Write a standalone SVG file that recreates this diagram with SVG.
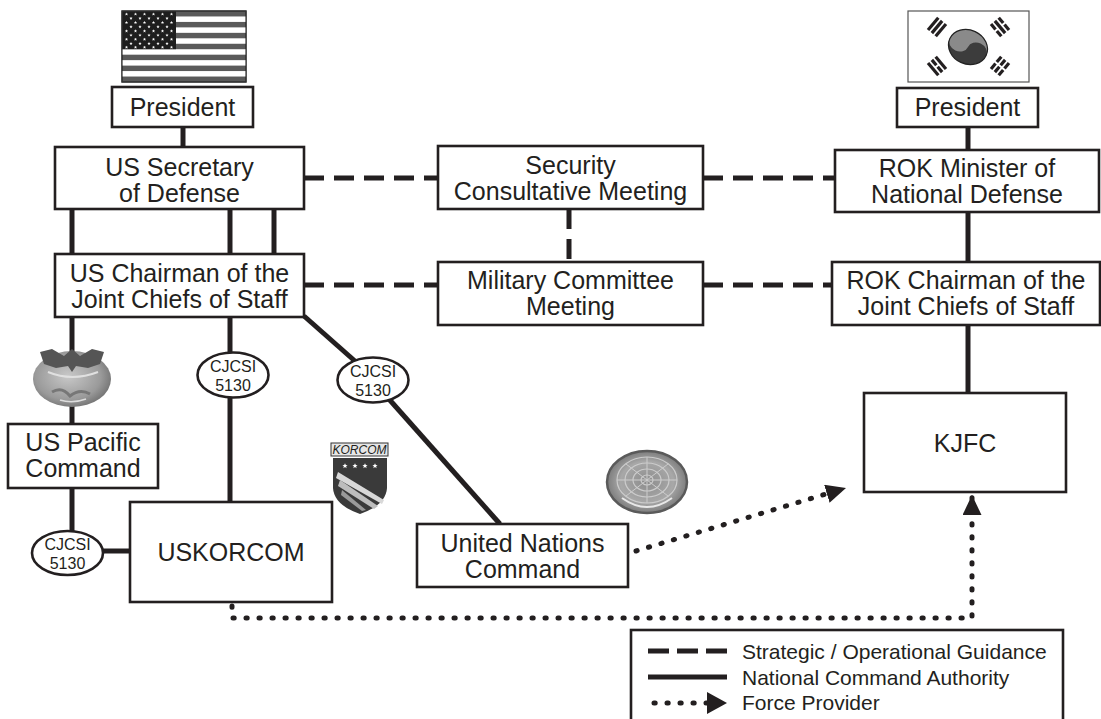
<svg xmlns="http://www.w3.org/2000/svg" xmlns:xlink="http://www.w3.org/1999/xlink" width="1101" height="719" viewBox="0 0 1101 719">
<style>
.box{fill:#fff;stroke:#231f20;stroke-width:2.6}
.t{font-family:"Liberation Sans",Arial,Helvetica,sans-serif;font-size:25px;fill:#231f20;text-anchor:middle}
.s{font-family:"Liberation Sans",Arial,Helvetica,sans-serif;font-size:16px;fill:#231f20;text-anchor:middle}
.lg{font-family:"Liberation Sans",Arial,Helvetica,sans-serif;font-size:21px;fill:#231f20}
.solid{fill:none;stroke:#231f20;stroke-width:5}
.dash{fill:none;stroke:#231f20;stroke-width:5;stroke-dasharray:20 10}
.dot{fill:none;stroke:#231f20;stroke-width:5;stroke-dasharray:1.2 11.8;stroke-linecap:round}
.ell{fill:#fff;stroke:#231f20;stroke-width:2.6}
</style>
<defs>
<marker id="arr" markerUnits="userSpaceOnUse" viewBox="0 0 20 19" markerWidth="20" markerHeight="19" refX="20" refY="9.5" orient="auto">
<path d="M0,0 L20,9.5 L0,19 Z" fill="#231f20"/>
</marker>
<marker id="arrL" markerUnits="userSpaceOnUse" viewBox="0 0 20 22" markerWidth="20" markerHeight="22" refX="20" refY="11" orient="auto">
<path d="M0,0 L20,11 L0,22 Z" fill="#231f20"/>
</marker>
<path id="star" d="M0,-1.7 L0.5,-0.55 1.62,-0.53 0.72,0.2 1,1.38 0,0.66 -1,1.38 -0.72,0.2 -1.62,-0.53 -0.5,-0.55Z" fill="#fff"/>
<g id="rowA"><use href="#star" x="0"/><use href="#star" x="9"/><use href="#star" x="18"/><use href="#star" x="27"/><use href="#star" x="36"/><use href="#star" x="45"/></g>
<g id="rowB"><use href="#star" x="4.5"/><use href="#star" x="13.5"/><use href="#star" x="22.5"/><use href="#star" x="31.5"/><use href="#star" x="40.5"/></g>
<rect id="bar" x="-8" y="-1.6" width="16" height="3.2" fill="#231f20"/>
<g id="brk"><rect x="-8" y="-1.6" width="7" height="3.2" fill="#231f20"/><rect x="1" y="-1.6" width="7" height="3.2" fill="#231f20"/></g>
<radialGradient id="gp" cx="0.45" cy="0.45" r="0.6">
<stop offset="0" stop-color="#c8c8c8"/><stop offset="0.7" stop-color="#9a9a9a"/><stop offset="1" stop-color="#6e6e6e"/>
</radialGradient>
<radialGradient id="gu" cx="0.5" cy="0.5" r="0.55">
<stop offset="0" stop-color="#8c8c8c"/><stop offset="0.6" stop-color="#a8a8a8"/><stop offset="1" stop-color="#707070"/>
</radialGradient>
</defs>

<!-- connectors -->
<g id="connectors">
<line class="solid" x1="183" y1="127" x2="183" y2="147"/>
<line class="solid" x1="72" y1="209" x2="72" y2="254"/>
<line class="solid" x1="230" y1="209" x2="230" y2="254"/>
<line class="solid" x1="274" y1="209" x2="274" y2="254"/>
<line class="solid" x1="72" y1="317" x2="72" y2="424"/>
<line class="solid" x1="72" y1="488" x2="72" y2="532"/>
<line class="solid" x1="103" y1="551" x2="130" y2="551"/>
<line class="solid" x1="230" y1="317" x2="230" y2="353"/>
<line class="solid" x1="230" y1="397" x2="230" y2="502"/>
<line class="solid" x1="304" y1="316" x2="356" y2="362"/>
<line class="solid" x1="388" y1="398" x2="500" y2="524"/>
<line class="solid" x1="968" y1="127" x2="968" y2="150"/>
<line class="solid" x1="968" y1="212" x2="968" y2="262"/>
<line class="solid" x1="968" y1="325" x2="968" y2="393"/>
<line class="dash" x1="304" y1="178" x2="438" y2="178"/>
<line class="dash" x1="703" y1="178" x2="835" y2="178"/>
<line class="dash" x1="569" y1="209" x2="569" y2="262"/>
<line class="dash" x1="304" y1="285" x2="438" y2="285"/>
<line class="dash" x1="703" y1="285" x2="832" y2="285"/>
<path class="dot" d="M636,551 L846,488" marker-end="url(#arr)"/>
<path class="dot" d="M232,606 V618 H972 V495" marker-end="url(#arr)"/>
</g>

<!-- US flag -->
<g id="us-flag">
<rect x="122" y="11" width="124" height="71" fill="#5a5a5a" stroke="#333" stroke-width="1.2"/>
<rect x="122" y="16.46" width="124" height="5.46" fill="#fff"/>
<rect x="122" y="27.38" width="124" height="5.46" fill="#fff"/>
<rect x="122" y="38.3" width="124" height="5.46" fill="#fff"/>
<rect x="122" y="49.22" width="124" height="5.46" fill="#fff"/>
<rect x="122" y="60.14" width="124" height="5.46" fill="#fff"/>
<rect x="122" y="71.06" width="124" height="5.46" fill="#fff"/>
<rect x="122" y="11" width="54" height="38.2" fill="#1e1e1e"/>
<use href="#rowA" x="126.5" y="14.2"/>
<use href="#rowB" x="126.5" y="18.4"/>
<use href="#rowA" x="126.5" y="22.6"/>
<use href="#rowB" x="126.5" y="26.8"/>
<use href="#rowA" x="126.5" y="31"/>
<use href="#rowB" x="126.5" y="35.2"/>
<use href="#rowA" x="126.5" y="39.4"/>
<use href="#rowB" x="126.5" y="43.6"/>
<use href="#rowA" x="126.5" y="47.4"/>
<rect x="122" y="11" width="124" height="71" fill="none" stroke="#333" stroke-width="1.2"/>
</g>

<!-- ROK flag -->
<g id="rok-flag">
<rect x="908" y="11" width="121" height="71" fill="#fff" stroke="#555" stroke-width="1.2"/>
<g transform="translate(968,47) rotate(25)">
<ellipse cx="0" cy="0" rx="20" ry="17" fill="#3c3c3c"/>
<path d="M-20,0 A20,17 0 0 1 20,0 A10,8.5 0 0 0 0,0 A10,8.5 0 0 1 -20,0 Z" fill="#8a8a8a"/>
<ellipse cx="0" cy="0" rx="20" ry="17" fill="none" stroke="#222" stroke-width="1.2"/>
</g>
<g transform="translate(937,27) rotate(-50)"><use href="#bar" y="-5"/><use href="#bar"/><use href="#bar" y="5"/></g>
<g transform="translate(1000,27) rotate(50)"><use href="#brk" y="-5"/><use href="#bar"/><use href="#brk" y="5"/></g>
<g transform="translate(937,66) rotate(50)"><use href="#bar" y="-5"/><use href="#brk"/><use href="#bar" y="5"/></g>
<g transform="translate(1000,66) rotate(-50)"><use href="#brk" y="-5"/><use href="#brk"/><use href="#brk" y="5"/></g>
</g>

<!-- PACOM emblem -->
<g id="pacom-emblem">
<ellipse cx="72" cy="379" rx="39" ry="28" fill="url(#gp)"/>
<path d="M40,352 L52,349 L64,356 L72,349 L80,356 L92,349 L104,352 L100,364 L88,368 L76,366 L72,372 L68,366 L56,368 L44,364 Z" fill="#555"/>
<path d="M48,372 Q72,382 98,372" fill="none" stroke="#e0e0e0" stroke-width="2"/>
<path d="M52,392 Q62,386 70,396 Q80,388 90,394" fill="none" stroke="#777" stroke-width="3"/>
<path d="M60,400 Q72,404 86,399" fill="none" stroke="#ddd" stroke-width="1.5"/>
</g>

<!-- KORCOM badge -->
<g id="korcom-badge">
<rect x="331" y="443" width="57" height="13" fill="#e6e6e6" stroke="#333" stroke-width="1"/>
<text x="359.5" y="454" font-family="Liberation Sans, Arial, sans-serif" font-size="12" font-style="italic" text-anchor="middle" fill="#231f20">KORCOM</text>
<path d="M333,458 H387 V488 Q386,505 360,514 Q334,505 333,488 Z" fill="#3a3a3a"/>
<g transform="translate(345,466) scale(1.6)"><use href="#star"/></g>
<g transform="translate(355,466) scale(1.6)"><use href="#star"/></g>
<g transform="translate(365,466) scale(1.6)"><use href="#star"/></g>
<g transform="translate(375,466) scale(1.6)"><use href="#star"/></g>
<path d="M338,472 L384,500 L382,504 L336,478 Z" fill="#d8d8d8"/>
<path d="M340,480 L378,506 L374,509 L338,486 Z" fill="#bdbdbd"/>
<path d="M342,490 L366,510 L362,511 L341,495 Z" fill="#9a9a9a"/>
</g>

<!-- UN emblem -->
<g id="un-emblem">
<ellipse cx="647" cy="482" rx="40" ry="31" fill="url(#gu)" stroke="#5a5a5a" stroke-width="2.5"/>
<ellipse cx="647" cy="480" rx="30" ry="23" fill="none" stroke="#ccc" stroke-width="1.2"/>
<ellipse cx="647" cy="480" rx="22" ry="17" fill="none" stroke="#ccc" stroke-width="1.2"/>
<ellipse cx="647" cy="480" rx="14" ry="11" fill="none" stroke="#ccc" stroke-width="1.2"/>
<ellipse cx="647" cy="480" rx="6" ry="5" fill="none" stroke="#ccc" stroke-width="1.2"/>
<line x1="647" y1="457" x2="647" y2="503" stroke="#ccc" stroke-width="1"/>
<line x1="617" y1="480" x2="677" y2="480" stroke="#ccc" stroke-width="1"/>
<line x1="626" y1="464" x2="668" y2="496" stroke="#ccc" stroke-width="1"/>
<line x1="668" y1="464" x2="626" y2="496" stroke="#ccc" stroke-width="1"/>
<path d="M622,498 Q647,516 672,498" fill="none" stroke="#e8e8e8" stroke-width="2"/>
</g>

<g id="us-president"><rect class="box" x="112" y="87" width="141" height="40"/><text class="t" x="182.5" y="116">President</text></g>
<g id="us-secdef"><rect class="box" x="55" y="147" width="249" height="62"/><text class="t" x="179.5" y="176">US Secretary</text><text class="t" x="179.5" y="202">of Defense</text></g>
<g id="rok-president"><rect class="box" x="897" y="88" width="141" height="39"/><text class="t" x="967.5" y="116">President</text></g>
<g id="rok-minister"><rect class="box" x="835" y="150" width="264" height="62"/><text class="t" x="967" y="177">ROK Minister of</text><text class="t" x="967" y="203">National Defense</text></g>
<g id="scm"><rect class="box" x="438" y="146" width="265" height="63"/><text class="t" x="570.5" y="174">Security</text><text class="t" x="570.5" y="200">Consultative Meeting</text></g>
<g id="mcm"><rect class="box" x="438" y="262" width="265" height="63"/><text class="t" x="570.5" y="289">Military Committee</text><text class="t" x="570.5" y="315">Meeting</text></g>
<g id="us-cjcs"><rect class="box" x="55" y="254" width="249" height="63"/><text class="t" x="179.5" y="282">US Chairman of the</text><text class="t" x="179.5" y="308">Joint Chiefs of Staff</text></g>
<g id="rok-cjcs"><rect class="box" x="832" y="262" width="268" height="63"/><text class="t" x="966" y="289">ROK Chairman of the</text><text class="t" x="966" y="315">Joint Chiefs of Staff</text></g>
<g id="us-pacom"><rect class="box" x="8" y="424" width="150" height="64"/><text class="t" x="83" y="451">US Pacific</text><text class="t" x="83" y="477">Command</text></g>
<g id="uskorcom"><rect class="box" x="130" y="502" width="202" height="100"/><text class="t" x="231" y="561">USKORCOM</text></g>
<g id="unc"><rect class="box" x="417" y="524" width="211" height="63"/><text class="t" x="522.5" y="552">United Nations</text><text class="t" x="522.5" y="578">Command</text></g>
<g id="kjfc"><rect class="box" x="864" y="393" width="202" height="99"/><text class="t" x="965" y="452" font-size="32">KJFC</text></g>

<g id="cjcsi-1"><ellipse class="ell" cx="233" cy="375" rx="35.5" ry="22.5"/><text class="s" x="233" y="372">CJCSI</text><text class="s" x="233" y="391">5130</text></g>
<g id="cjcsi-2"><ellipse class="ell" cx="373" cy="380" rx="35.5" ry="22.5"/><text class="s" x="373" y="377">CJCSI</text><text class="s" x="373" y="396">5130</text></g>
<g id="cjcsi-3"><ellipse class="ell" cx="67.5" cy="553" rx="35.5" ry="22"/><text class="s" x="67.5" y="550">CJCSI</text><text class="s" x="67.5" y="569">5130</text></g>

<g id="legend">
<rect class="box" x="631" y="630" width="432" height="100"/>
<line x1="648" y1="651" x2="727" y2="651" stroke="#231f20" stroke-width="5" stroke-dasharray="21 8"/>
<line x1="648" y1="677" x2="727" y2="677" stroke="#231f20" stroke-width="5"/>
<path class="dot" d="M654,703 L727,703" marker-end="url(#arrL)"/>
<text class="lg" x="742" y="659">Strategic / Operational Guidance</text>
<text class="lg" x="742" y="685">National Command Authority</text>
<text class="lg" x="742" y="710">Force Provider</text>
</g>
</svg>
